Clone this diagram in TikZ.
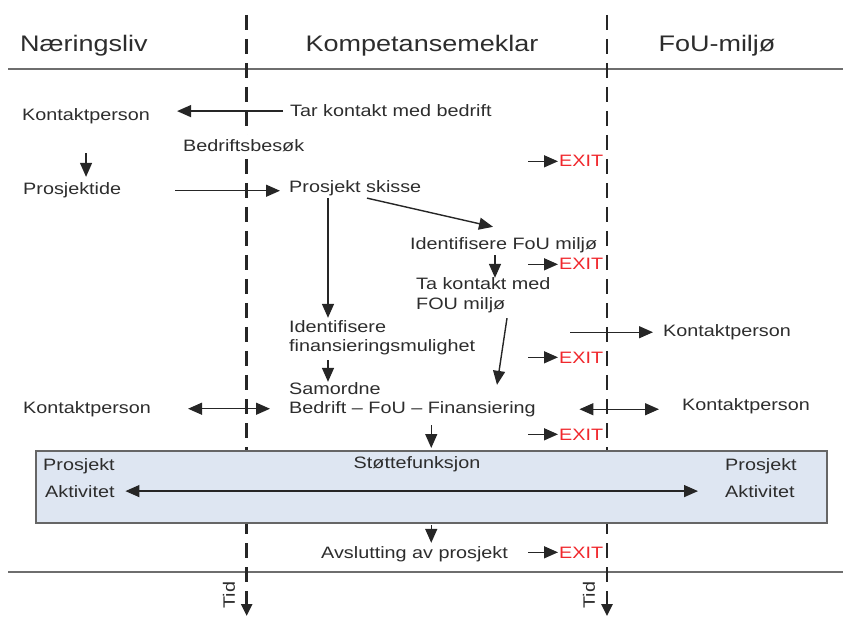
\documentclass[tikz,border=0pt]{standalone}
\usepackage{fontspec}
\setmainfont{Liberation Sans}[FakeStretch=1.2]
\usetikzlibrary{arrows.meta}
\definecolor{txtc}{RGB}{45,45,45}
\definecolor{exitred}{RGB}{240,40,45}
\definecolor{boxfill}{RGB}{222,230,242}
\definecolor{rulec}{RGB}{110,110,110}
\newcommand\bodyfnt{\fontsize{16.5}{19}\selectfont}
\newcommand\headfnt{\fontsize{22.5}{26}\selectfont}
\begin{document}
\begin{tikzpicture}[x=1pt,y=-1pt,
 txt/.style={inner sep=0pt, text=txtc, font=\bodyfnt, anchor=base west},
 hdr/.style={inner sep=0pt, text=txtc, font=\headfnt, anchor=base},
 exitlbl/.style={inner sep=0pt, text=exitred, font=\bodyfnt, anchor=base west},
 arr/.style={draw=black!85, line width=1.4pt, -{Triangle[length=14pt,width=12pt]}},
 darr/.style={draw=black!85, line width=1.4pt, {Triangle[length=14pt,width=12pt]}-{Triangle[length=14pt,width=12pt]}},
 lane/.style={draw=black!85, line width=2.6pt, dash pattern=on 15pt off 9pt, -{Triangle[length=12pt,width=11pt]}},
 rule/.style={draw=rulec, line width=2pt},
 panel/.style={draw=black!60, line width=1.5pt, fill=boxfill, inner sep=0pt, anchor=north west}]
\useasboundingbox (0,0) rectangle (843,617);

% rules
\coordinate (r1a) at (8,69);
\coordinate (r1b) at (843,69);
\coordinate (r2a) at (8,572);
\coordinate (r2b) at (843,572);
\draw[rule] (r1a) -- (r1b);
\draw[rule] (r2a) -- (r2b);

% lanes
\coordinate (l1t) at (246.7,15);
\coordinate (l1b) at (246.7,616);
\coordinate (l2t) at (607,15);
\coordinate (l2b) at (607,616);
\draw[lane] (l1t) -- (l1b);
\draw[lane] (l2t) -- (l2b);

% panel
\node[panel, minimum width=791pt, minimum height=72pt] (box) at (35,450) {};

% headers
\node[hdr, anchor=base west] (hNar) at (20,51.5) {Næringsliv};
\node[hdr] (hKomp) at (422,51.5) {Kompetansemeklar};
\node[hdr] (hFoU) at (717,51.5) {FoU-miljø};

% texts
\node[txt] (kp1) at (22,121) {Kontaktperson};
\node[txt] (tar) at (290,117) {Tar kontakt med bedrift};
\node[txt, fill=white, inner sep=5pt] (besok) at (178,151.5) {Bedriftsbesøk};
\node[txt] (ide) at (23,195) {Prosjektide};
\node[txt] (skisse) at (289,193) {Prosjekt skisse};
\node[txt] (idfou) at (410,250) {Identifisere FoU miljø};
\node[txt] (ta1) at (416,290) {Ta kontakt med};
\node[txt] (ta2) at (416,310) {FOU miljø};
\node[txt] (kp2) at (663,336.5) {Kontaktperson};
\node[txt] (id1) at (289,333) {Identifisere};
\node[txt] (id2) at (289,352) {finansieringsmulighet};
\node[txt] (sam1) at (289,395) {Samordne};
\node[txt] (sam2) at (289,413.5) {Bedrift – FoU – Finansiering};
\node[txt] (kp3) at (23,413) {Kontaktperson};
\node[txt] (kp4) at (682,410) {Kontaktperson};
\node[txt, anchor=base] (stotte) at (417,468) {Støttefunksjon};
\node[txt] (proL) at (43,470) {Prosjekt};
\node[txt] (aktL) at (45,497) {Aktivitet};
\node[txt] (proR) at (725,470) {Prosjekt};
\node[txt] (aktR) at (725,497) {Aktivitet};
\node[txt] (avsl) at (321,558) {Avslutting av prosjekt};
\node[txt, anchor=center, rotate=90] (tid1) at (229,595) {Tid};
\node[txt, anchor=center, rotate=90] (tid2) at (589,595) {Tid};

% exits
\node[exitlbl] (exit1) at (559,167) {EXIT};
\node[exitlbl] (exit2) at (559,270) {EXIT};
\node[exitlbl] (exit3) at (559,363) {EXIT};
\node[exitlbl] (exit4) at (559,440) {EXIT};
\node[exitlbl] (exit5) at (559,558) {EXIT};
\foreach \e in {exit1,exit2,exit3,exit4,exit5}
  \draw[arr, shorten >=1pt] ([xshift=-31pt]\e.west) -- (\e.west);

% connectors
\draw[arr, shorten <=7pt, shorten >=27pt] (tar.west) -- (tar.west -| kp1.east);
\draw[arr, shorten <=28.5pt, shorten >=6pt] (kp1.south) -- (kp1.south |- ide.north);
\draw[arr, shorten <=54pt, shorten >=9pt] (ide.east) -- (ide.east -| skisse.west);
\draw[arr] ([xshift=78pt,yshift=-1.5pt]skisse.south west) -- ([xshift=83pt,yshift=11pt]idfou.north west);
\draw[arr] ([xshift=39pt,yshift=-1.5pt]skisse.south west) -- ([xshift=39pt,yshift=3pt]id1.north west);
\draw[arr] ([xshift=85pt,yshift=-1.5pt]idfou.south west) -- ([xshift=79pt]ta1.north west);
\draw[arr] ([xshift=91pt,yshift=-4.5pt]ta2.south west) -- ([xshift=208pt,yshift=16.5pt]sam2.north west);
\draw[arr] ([xshift=39pt,yshift=-4.5pt]id2.south west) -- ([xshift=39pt,yshift=1pt]sam1.north west);
\draw[arr] ([xshift=-93pt]kp2.west) -- ([xshift=-10pt]kp2.west);
\draw[darr, shorten <=37pt, shorten >=19pt] (kp3.east) -- (kp3.east -| sam2.west);
\draw[darr, shorten <=43.5pt, shorten >=23pt] (sam2.east) -- (sam2.east -| kp4.west);
\draw[arr, shorten <=8pt, shorten >=2pt] (box.north |- sam2.south) -- (box.north);
\draw[darr, shorten <=10.7pt, shorten >=27pt] (aktL.east) -- (aktL.east -| aktR.west);
\draw[arr, shorten <=1.5pt, shorten >=3pt] (box.south) -- (box.south |- avsl.north);
\end{tikzpicture}
\end{document}
